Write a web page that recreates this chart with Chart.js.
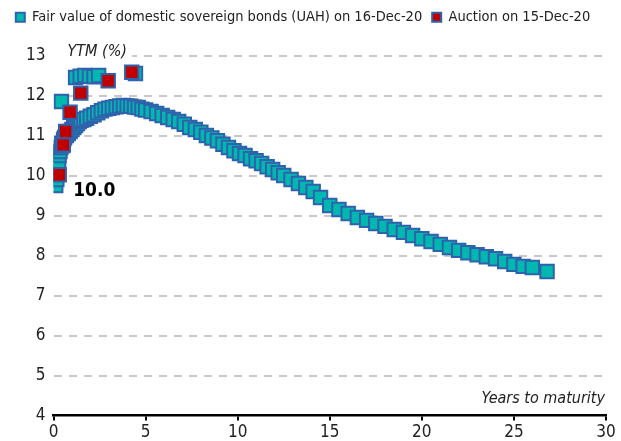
<!DOCTYPE html>
<html>
<head>
<meta charset="utf-8">
<script src="https://cdn.jsdelivr.net/npm/chart.js@4/dist/chart.umd.min.js"></script>
<style>
  html, body { margin: 0; padding: 0; background: #fff; }
  #wrap { width: 621px; height: 441px; }
</style>
</head>
<body>
<div id="wrap"><canvas id="chart" width="621" height="441"></canvas></div>
<script>
// Fair value curve (years to maturity / YTM %)
const fairYears = [
  0.12, 0.18, 0.22, 0.25, 0.28, 0.3, 0.35, 0.4, 0.45, 0.5, 0.55, 0.6, 0.43,
  1.2, 1.45, 1.7, 1.95, 2.2, 2.45, 4.45,
  0.7, 0.8, 0.9, 1.0, 1.1, 1.2, 1.3, 1.4, 1.5, 1.65, 1.8, 2.0, 2.2, 2.4, 2.6,
  2.8, 3.0, 3.2, 3.4, 3.6, 3.8, 4.0, 4.2, 4.4, 4.6, 4.8, 5.0, 5.3, 5.6, 5.9,
  6.2, 6.5, 6.8, 7.1, 7.4, 7.7, 8.0, 8.3, 8.6, 8.9, 9.2, 9.5, 9.8, 10.1, 10.4,
  10.7, 11.0, 11.3, 11.6, 11.9, 12.2, 12.5, 12.9, 13.3, 13.7, 14.1, 14.5, 15.0,
  15.5, 16.0, 16.5, 17.0, 17.5, 18.0, 18.5, 19.0, 19.5, 20.0, 20.5, 21.0, 21.5,
  22.0, 22.5, 23.0, 23.5, 24.0, 24.5, 25.0, 25.5, 26.0, 26.8
];
const fairYtm = [
  9.75, 9.9, 10.05, 10.2, 10.35, 10.5, 10.6, 10.7, 10.8, 10.75, 10.9, 10.95, 11.85,
  12.45, 12.48, 12.5, 12.48, 12.47, 12.5, 12.55,
  11.0, 11.05, 11.1, 11.15, 11.2, 11.25, 11.3, 11.35, 11.38, 11.4, 11.43, 11.48, 11.52, 11.57, 11.62,
  11.66, 11.68, 11.7, 11.72, 11.74, 11.75, 11.74, 11.73, 11.71, 11.7, 11.66, 11.64, 11.6, 11.55, 11.5,
  11.45, 11.4, 11.35, 11.28, 11.2, 11.15, 11.08, 11.0, 10.94, 10.87, 10.78, 10.7, 10.62, 10.55, 10.5,
  10.42, 10.37, 10.3, 10.22, 10.15, 10.07, 10.0, 9.9, 9.8, 9.7, 9.6, 9.45, 9.25,
  9.15, 9.05, 8.95, 8.88, 8.8, 8.73, 8.65, 8.58, 8.5, 8.42, 8.35, 8.28, 8.2,
  8.13, 8.07, 8.02, 7.97, 7.92, 7.85, 7.78, 7.73, 7.7, 7.6
];

// Auction results
const auctionYears = [0.31, 0.53, 0.66, 0.9, 1.48, 2.97, 4.25];
const auctionYtm = [10.02, 10.77, 11.1, 11.58, 12.06, 12.37, 12.58];

const xTicks = [0, 5, 10, 15, 20, 25, 30];
const yTicks = [4, 5, 6, 7, 8, 9, 10, 11, 12, 13];

const seriesNames = [
  "Fair value of domestic sovereign bonds (UAH) on 16-Dec-20",
  "Auction on 15-Dec-20"
];
const yTitle = "YTM (%)";
const xTitle = "Years to maturity";

const NARROW = '"Liberation Sans Narrow", "DejaVu Sans Condensed", "Liberation Sans", sans-serif';
const TEAL = "#00B8B0";
const BLUE = "#2E62AC";
const RED = "#C00000";

// push the plot down below the legend
const legendGap = {
  id: "legendGap",
  beforeLayout(chart) {
    const legend = chart.legend;
    if (!legend || legend._gapPatched) return;
    const fit = legend.fit;
    legend.fit = function () {
      fit.call(this);
      this.height += 21;
    };
    legend._gapPatched = true;
  }
};

// axis captions drawn inside the plot, white box hides the gridline under "YTM (%)"
const captions = {
  id: "captions",
  beforeDatasetsDraw(chart) {
    const { ctx, chartArea } = chart;
    const yTop = chart.scales.y.getPixelForValue(13);
    ctx.save();
    ctx.font = "italic 16px " + NARROW;
    ctx.textBaseline = "middle";
    const w = ctx.measureText(yTitle).width;
    ctx.fillStyle = "#fff";
    ctx.fillRect(chartArea.left, yTop - 4, 14 + w + 5, 8);
    ctx.fillStyle = "#222";
    ctx.textAlign = "left";
    ctx.fillText(yTitle, chartArea.left + 14, yTop - 4);
    ctx.textAlign = "right";
    ctx.fillText(xTitle, chartArea.right - 1, chartArea.bottom - 17);
    ctx.restore();
  }
};

// "10.0" label next to the shortest auction point
const valueLabel = {
  id: "valueLabel",
  afterDatasetsDraw(chart) {
    const pt = chart.getDatasetMeta(1).data[0];
    if (!pt) return;
    const { ctx } = chart;
    ctx.save();
    ctx.font = "bold 19px " + NARROW;
    ctx.fillStyle = "#000";
    ctx.textAlign = "left";
    ctx.textBaseline = "middle";
    ctx.fillText(auctionYtm[0].toFixed(1), pt.x + 14, pt.y + 16);
    ctx.restore();
  }
};

const ctx = document.getElementById("chart").getContext("2d");
new Chart(ctx, {
  type: "scatter",
  data: {
    datasets: [
      {
        label: seriesNames[0],
        data: fairYears.map((x, i) => ({ x: x, y: fairYtm[i] })),
        backgroundColor: TEAL,
        borderColor: BLUE,
        borderWidth: 1.5,
        pointStyle: "rect",
        pointRadius: 9.5,
        pointBorderWidth: 2,
        pointBackgroundColor: TEAL,
        pointBorderColor: BLUE,
        order: 1
      },
      {
        label: seriesNames[1],
        data: auctionYears.map((x, i) => ({ x: x, y: auctionYtm[i] })),
        backgroundColor: RED,
        borderColor: BLUE,
        borderWidth: 1.5,
        pointStyle: "rect",
        pointRadius: 9.5,
        pointBorderWidth: 2,
        pointBackgroundColor: RED,
        pointBorderColor: BLUE,
        order: 0
      }
    ]
  },
  options: {
    responsive: false,
    animation: false,
    layout: { padding: { left: 0, right: 15, top: 0, bottom: 0 } },
    plugins: {
      legend: {
        display: true,
        position: "top",
        reverse: true,
        labels: {
          boxWidth: 9,
          boxHeight: 9,
          padding: 10,
          color: "#222",
          font: { family: NARROW, size: 14.5 }
        }
      },
      tooltip: { enabled: false }
    },
    scales: {
      x: {
        type: "linear",
        min: 0,
        max: 30,
        afterBuildTicks: (scale) => { scale.ticks = xTicks.map((v) => ({ value: v })); },
        afterFit: (scale) => { scale.height -= 4; },
        ticks: { color: "#222", padding: 2, font: { family: NARROW, size: 17 } },
        grid: { drawOnChartArea: false, drawTicks: true, tickLength: 5, color: "#000", lineWidth: 2 },
        border: { display: true, color: "#000", width: 2.5 }
      },
      y: {
        type: "linear",
        min: 4,
        max: 13,
        afterBuildTicks: (scale) => { scale.ticks = yTicks.map((v) => ({ value: v })); },
        afterFit: (scale) => { scale.width = 53.5; },
        ticks: { color: "#222", padding: 8, font: { family: NARROW, size: 17 } },
        grid: {
          drawTicks: false,
          color: (c) => (c.tick && c.tick.value === 4 ? "rgba(0,0,0,0)" : "#C8C8C8"),
          lineWidth: 2
        },
        border: { display: false, dash: [8, 7] }
      }
    }
  },
  plugins: [legendGap, captions, valueLabel]
});
</script>
</body>
</html>
